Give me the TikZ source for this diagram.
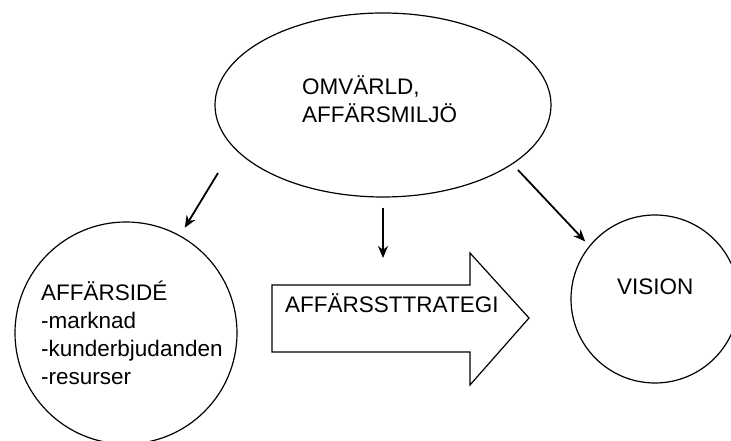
\documentclass[tikz,border=0pt]{standalone}
\usepackage{fontspec}
\setmainfont{Liberation Sans}
\usetikzlibrary{arrows.meta,shapes.geometric}
\begin{document}
\begin{tikzpicture}[x=1pt,y=1pt,
  outline/.style={draw, line width=1.2pt, inner sep=0pt},
  pointer/.style={-{Stealth[length=12pt,width=10pt]}, line width=1.8pt},
  caption/.style={font=\fontsize{22.5}{28.3}\selectfont, align=left, inner sep=0pt}]
\useasboundingbox (0,0) rectangle (731,441);
% shapes
\node[outline, ellipse, minimum width=336pt, minimum height=184pt] (world) at (383,336) {};
\node[outline, circle, minimum size=222pt] (idea) at (126,108) {};
\node[outline, circle, minimum size=168pt] (vision) at (655,142) {};
\draw[line width=1.2pt] (272,156) -- (470,156) -- (470,188) -- (529,123)
  -- (470,56) -- (470,89) -- (272,89) -- cycle;
% texts (base = last line)
\node[caption, anchor=base west] (world text) at (302,318) {OMVÄRLD,\\AFFÄRSMILJÖ};
\node[caption, anchor=base west] (idea text) at (41,56) {AFFÄRSIDÉ\\-marknad\\-kunderbjudanden\\-resurser};
\node[caption, anchor=base west] (plan text) at (285,128) {AFFÄRSSTTRATEGI};
\node[caption, anchor=base west] (vision text) at (617,146) {VISION};
% arrows
\coordinate (idea start) at (218,268);
\coordinate (plan end) at (383,183);
\coordinate (vision start) at (518,271);
\draw[pointer, shorten >=9pt] (idea start) -- (idea.61);
\draw[pointer, shorten <=10pt] (world.south) -- (plan end);
\draw[pointer, shorten >=6pt] (vision start) -- (vision.141);
\end{tikzpicture}
\end{document}
